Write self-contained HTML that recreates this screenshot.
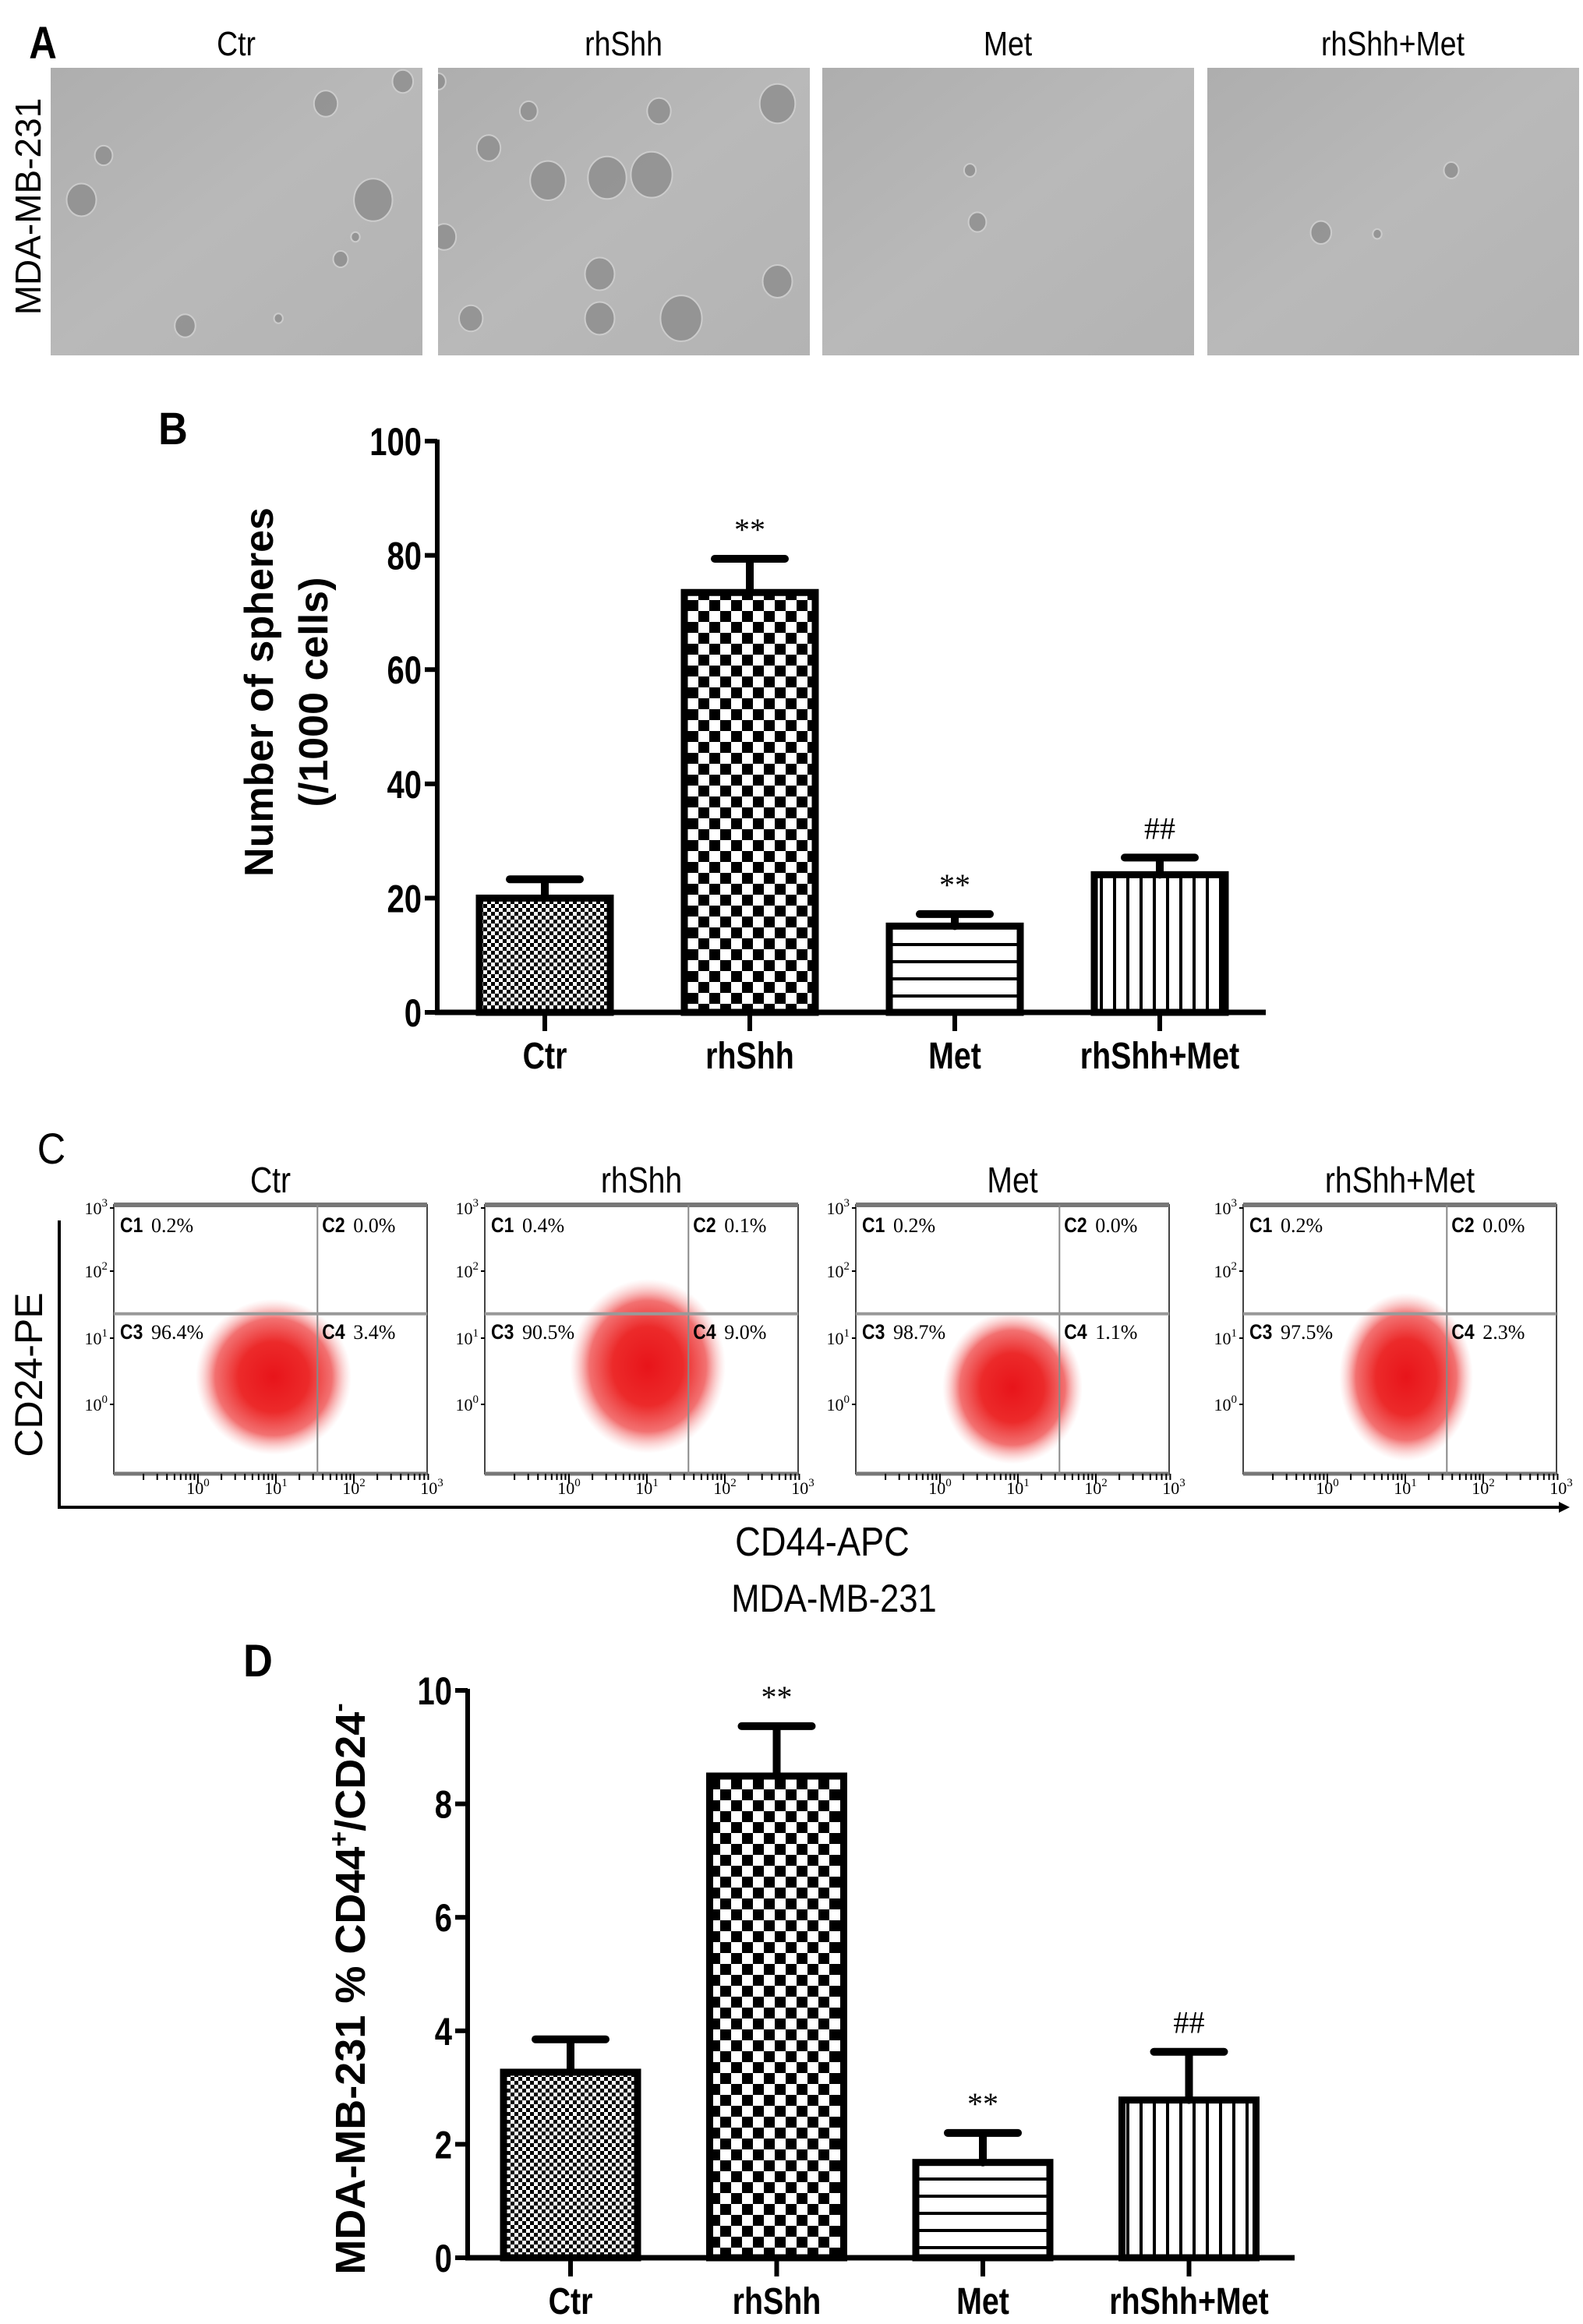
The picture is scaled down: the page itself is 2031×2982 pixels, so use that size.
<!DOCTYPE html>
<html><head><meta charset="utf-8"><style>
html,body{margin:0;padding:0;background:#fff}
svg{display:block}
text{font-family:"Liberation Sans",sans-serif}
</style></head><body>
<svg id="fig" width="2031" height="2982" viewBox="0 0 2031 2982" xmlns="http://www.w3.org/2000/svg">
<defs>
<pattern id="pFine" width="10" height="10" patternUnits="userSpaceOnUse"><rect width="10" height="10" fill="#fff"/><rect width="5" height="5" fill="#000"/><rect x="5" y="5" width="5" height="5" fill="#000"/></pattern>
<pattern id="pCheck" width="28" height="28" patternUnits="userSpaceOnUse"><rect width="28" height="28" fill="#fff"/><rect width="14" height="14" fill="#000"/><rect x="14" y="14" width="14" height="14" fill="#000"/></pattern>
<pattern id="pHoriz" width="20" height="22" patternUnits="userSpaceOnUse"><rect width="20" height="22" fill="#fff"/><rect y="0" width="20" height="4" fill="#000"/></pattern>
<pattern id="pVert" width="17" height="20" patternUnits="userSpaceOnUse"><rect width="17" height="20" fill="#fff"/><rect x="0" width="4" height="20" fill="#000"/></pattern>
<radialGradient id="cloud"><stop offset="0" stop-color="#e8141a"/><stop offset="0.45" stop-color="#ec2a2a"/><stop offset="0.75" stop-color="#f05858" stop-opacity="0.85"/><stop offset="1" stop-color="#f8b0b0" stop-opacity="0"/></radialGradient>
<linearGradient id="photoG" x1="0" y1="0" x2="1" y2="1"><stop offset="0" stop-color="#aeaeae"/><stop offset="0.5" stop-color="#b9b9b9"/><stop offset="1" stop-color="#b3b3b3"/></linearGradient>
</defs>
<g id="root"></g>
</svg>
<script>
// ---- Panel B data ----
const bCategories = ["Ctr","rhShh","Met","rhShh+Met"];
const bValues = [20.0, 73.5, 15.1, 24.1];
const bErrors = [3.3, 5.9, 2.1, 3.0];
const bSig = ["", "**", "**", "##"];
const bTicks = [0,20,40,60,80,100];
// ---- Panel D data ----
const dCategories = ["Ctr","rhShh","Met","rhShh+Met"];
const dValues = [3.27, 8.49, 1.68, 2.78];
const dErrors = [0.58, 0.88, 0.52, 0.85];
const dSig = ["", "**", "**", "##"];
const dTicks = [0,2,4,6,8,10];
// ---- Panel C data ----
const cTitles = ["Ctr","rhShh","Met","rhShh+Met"];
const cC1 = ["0.2%","0.4%","0.2%","0.2%"];
const cC2 = ["0.0%","0.1%","0.0%","0.0%"];
const cC3 = ["96.4%","90.5%","98.7%","97.5%"];
const cC4 = ["3.4%","9.0%","1.1%","2.3%"];
const cDecades = [0,1,2,3];
// ---- Panel A ----
const aTitles = ["Ctr","rhShh","Met","rhShh+Met"];

const NS = "http://www.w3.org/2000/svg";
const root = document.getElementById('root');
function el(tag, attrs, parent){
  const e = document.createElementNS(NS, tag);
  for (const k in attrs) e.setAttribute(k, attrs[k]);
  (parent||root).appendChild(e);
  return e;
}
function txt(str, x, y, size, opts){
  opts = opts||{};
  const sx = opts.sx||1;
  const g = el('g', {transform:`translate(${x},${y})${opts.rot?` rotate(${opts.rot})`:''} scale(${sx},1)`}, opts.parent);
  const t = el('text', {x:0, y:0, 'font-size':size, 'text-anchor':opts.anchor||'middle', 'font-weight':opts.bold?'bold':'normal', fill:'#000'}, g);
  if (opts.family) t.setAttribute('style', 'font-family:'+opts.family);
  t.textContent = str;
  return t;
}

// ===== Panel A =====
const pa = txt("A", 55, 75, 58, {bold:true, sx:0.85});


const side = txt("MDA-MB-231", 52, 265, 46, {rot:-90});


const photoX = [65, 562, 1055, 1549];
// sphere positions in reference overview units (x, y, r)
const spheres = [
  [[220,70,8],[272,55,7],[70,105,6],[55,135,10],[252,135,13],[230,175,5],[240,160,3],[125,220,7],[188,215,3]],
  [[330,100,8],[357,75,6],[370,122,12],[410,120,13],[440,118,14],[445,75,8],[525,70,12],[300,160,8],[318,215,8],[405,185,10],[405,215,10],[460,215,14],[525,190,10],[296,55,5]],
  [[655,115,4],[660,150,6]],
  [[980,115,5],[892,157,7],[930,158,3]]
];
el('clipPath',{id:'noop'});
photoX.forEach((x,i)=>{
  const g = el('g', {});
  
  
  const cp = el('clipPath',{id:'clip'+i},g);
  el('rect',{x:x,y:87,width:477,height:369},cp);
  el('rect',{x:x,y:87,width:477,height:369,fill:'url(#photoG)'},g);
  const sg = el('g',{'clip-path':`url(#clip${i})`},g);
  spheres[i].forEach(s=>{
    el('ellipse',{cx:s[0]*1.9,cy:s[1]*1.9,rx:s[2]*1.9,ry:s[2]*2.1,fill:'#8f8f8f',stroke:'#d0d0d0','stroke-width':2,opacity:0.85},sg);
  });
  const t = txt(aTitles[i], x+238, 71, 44, {sx:0.85});
  
  
});

// ===== Bar chart helper =====
function barChart(cfg){
  const g = el('g', {});
  
  
  const y = v => cfg.y0 - (v - cfg.vmin)/(cfg.vmax - cfg.vmin)*(cfg.y0 - cfg.ytop);
  const x = i => cfg.cx0 + i*cfg.step;
  const fills = ['url(#pFine)','url(#pCheck)','url(#pHoriz)','url(#pVert)'];
  cfg.values.forEach((v,i)=>{
    const bar = el('rect',{x:x(i)-cfg.bw/2,y:y(v),width:cfg.bw,height:cfg.y0-y(v),fill:fills[i],stroke:'#000','stroke-width':9},g);
    
    
    const top = y(v + cfg.errors[i]);
    const eb = el('path',{d:`M${x(i)},${y(v)} V${top} M${x(i)-45},${top} H${x(i)+45}`,stroke:'#000','stroke-width':10,'stroke-linecap':'round',fill:'none'},g);
    
    
    if (cfg.sig[i]) {
      const s = txt(cfg.sig[i], x(i), top-24, 40, {parent:g, family:'"Liberation Serif",serif'});
      
      
    }
    el('line',{x1:x(i),y1:cfg.y0,x2:x(i),y2:cfg.y0+24,stroke:'#000','stroke-width':6},g);
    const lab = txt(cfg.cats[i], x(i), cfg.y0+72, 48, {bold:true, sx:0.82, parent:g});
    
    
  });
  el('line',{x1:cfg.ax,y1:cfg.ytop-2,x2:cfg.ax,y2:cfg.y0,stroke:'#000','stroke-width':6},g);
  el('line',{x1:cfg.ax-3,y1:cfg.y0,x2:cfg.xend,y2:cfg.y0,stroke:'#000','stroke-width':7},g);
  cfg.ticks.forEach(t=>{
    el('line',{x1:cfg.ax-16,y1:y(t),x2:cfg.ax,y2:y(t),stroke:'#000','stroke-width':6},g);
    const tl = txt(String(t), cfg.ax-20, y(t)+18, 50, {bold:true, sx:0.8, anchor:'end', parent:g});
    
    
  });
  return g;
}

// ===== Panel B =====
const pb = txt("B", 222, 570, 58, {bold:true, sx:0.9});


barChart({name:'sphere-count-chart', cats:bCategories, values:bValues, errors:bErrors, sig:bSig, ticks:bTicks,
  vmin:0, vmax:100, y0:1299, ytop:566, ax:561, xend:1624, cx0:699, step:263, bw:168});
const yb1 = txt("Number of spheres", 350, 888, 52, {bold:true, rot:-90});


const yb2 = txt("(/1000 cells)", 420, 888, 52, {bold:true, rot:-90});



// ===== Panel C =====
const pc = txt("C", 66, 1493, 56, {sx:0.9});


const plotX = [146, 622, 1098, 1595];
const plotW = 402, plotTop = 1546, plotH = 345;
const cloudC = [[0.51,0.64,100,100],[0.52,0.6,100,112],[0.5,0.68,90,98],[0.52,0.64,86,108]];
plotX.forEach((px,i)=>{
  const g = el('g',{});
  
  
  const t = txt(cTitles[i], px+plotW/2, 1530, 46, {sx:0.85, parent:g});
  
  
  el('rect',{x:px,y:plotTop,width:plotW,height:plotH,fill:'#fff',stroke:'#444','stroke-width':2},g);
  el('line',{x1:px,y1:plotTop,x2:px+plotW,y2:plotTop,stroke:'#777','stroke-width':6},g);
  el('line',{x1:px,y1:plotTop+plotH,x2:px+plotW,y2:plotTop+plotH,stroke:'#777','stroke-width':5},g);
  const c = cloudC[i];
  const cl = el('ellipse',{cx:px+c[0]*plotW,cy:plotTop+c[1]*plotH,rx:c[2],ry:c[3],fill:'url(#cloud)'},g);
  
  
  el('line',{x1:px+0.65*plotW,y1:plotTop,x2:px+0.65*plotW,y2:plotTop+plotH,stroke:'#888','stroke-width':2},g);
  el('line',{x1:px,y1:plotTop+0.405*plotH,x2:px+plotW,y2:plotTop+0.405*plotH,stroke:'#999','stroke-width':4},g);
  const qy1 = 1581, qy3 = 1718;
  [[cC1[i],'C1',px+8,qy1],[cC2[i],'C2',px+0.65*plotW+6,qy1],[cC3[i],'C3',px+8,qy3],[cC4[i],'C4',px+0.65*plotW+6,qy3]].forEach(q=>{
    const a = txt(q[1], q[2], q[3], 27, {bold:true, sx:0.85, anchor:'start', parent:g});
    
    
    const b = txt(q[0], q[2]+40, q[3], 26, {anchor:'start', parent:g, family:'"Liberation Serif",serif'});
    
    
  });
  const yd = [1802,1717,1631,1550];
  cDecades.forEach((d,k)=>{
    const yl = el('text',{x:px-8,y:yd[k]+8,'font-size':22,'text-anchor':'end',fill:'#000',style:'font-family:"Liberation Serif",serif'},g);
    yl.textContent = '10';
    const sup = el('tspan',{dy:-10,'font-size':15},yl); sup.textContent = String(d);
    
    
    el('line',{x1:px-5,y1:yd[k],x2:px,y2:yd[k],stroke:'#000','stroke-width':2},g);
    const xx = px + 108 + d*100;
    const xl = el('text',{x:xx,y:1917,'font-size':22,'text-anchor':'middle',fill:'#000',style:'font-family:"Liberation Serif",serif'},g);
    xl.textContent = '10';
    const s2 = el('tspan',{dy:-10,'font-size':15},xl); s2.textContent = String(d);
    
    
    if (d<3) for (let m=1;m<10;m++){
      const mx = xx + Math.log10(m)*100;
      el('line',{x1:mx,y1:plotTop+plotH,x2:mx,y2:plotTop+plotH+(m==1?12:8),stroke:'#000','stroke-width':2},g);
    }
    for (let m=2;m<10;m++){
      const mx = xx - 100 + Math.log10(m)*100;
      if (d==0 && mx>px) el('line',{x1:mx,y1:plotTop+plotH,x2:mx,y2:plotTop+plotH+8,stroke:'#000','stroke-width':2},g);
    }
  });
});
const ax = el('path',{d:'M76,1566 V1934 H2000',stroke:'#000','stroke-width':4,fill:'none'});


const arr = el('path',{d:'M2000,1927 L2014,1934 L2000,1941 Z',fill:'#000'});


const cy = txt("CD24-PE", 54, 1764, 50, {rot:-90});


const cx = txt("CD44-APC", 1055, 1996, 52, {sx:0.87});


const cl2 = txt("MDA-MB-231", 1070, 2068, 50, {sx:0.87});



// ===== Panel D =====
const pd = txt("D", 331, 2151, 58, {bold:true, sx:0.9});


barChart({name:'cd44-cd24-percentage-chart', cats:dCategories, values:dValues, errors:dErrors, sig:dSig, ticks:dTicks,
  vmin:0, vmax:10, y0:2897, ytop:2169, ax:600, xend:1661, cx0:732, step:264.5, bw:172});
const ydT = el('text',{x:0,y:0,'font-size':54,'font-weight':'bold','text-anchor':'middle',fill:'#000',transform:'translate(468,2552) rotate(-90)'});


ydT.textContent = 'MDA-MB-231 % CD44';
const sp1 = el('tspan',{dy:-22,'font-size':34},ydT); sp1.textContent='+';
const sp2 = el('tspan',{dy:22},ydT); sp2.textContent='/CD24';
const sp3 = el('tspan',{dy:-22,'font-size':34},ydT); sp3.textContent='-';
</script>
</body></html>
